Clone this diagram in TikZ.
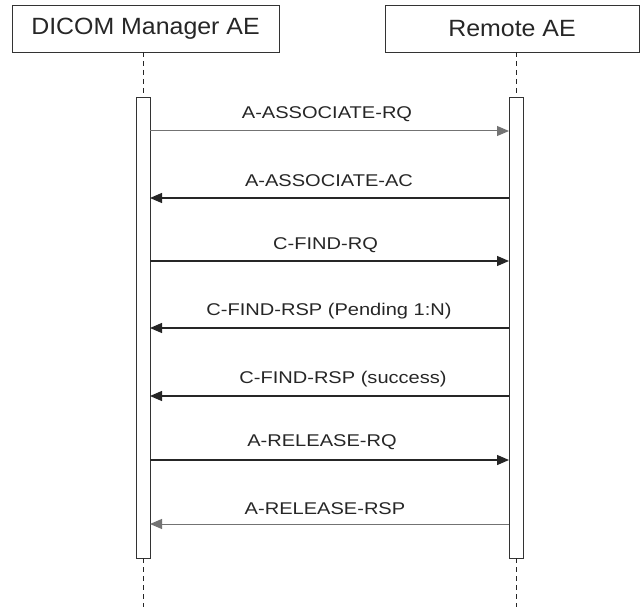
\documentclass[tikz,border=0pt]{standalone}
\usepackage{fontspec}
\setmainfont{Liberation Sans}
\newfontfamily\actorfont[FakeStretch=1.06]{Liberation Sans}
\newfontfamily\msgfont[FakeStretch=1.18]{Liberation Sans}
\usetikzlibrary{arrows.meta}

\tikzset{
  actor/.style={draw=black!80, line width=0.9pt, inner sep=0pt, minimum height=47pt,
    font=\actorfont\fontsize{23.5}{27}\selectfont, text=black!85},
  bar/.style={draw=black!80, line width=0.9pt, fill=white, inner sep=0pt,
    minimum width=14pt, minimum height=461pt},
  life/.style={draw=black!85, line width=0.9pt, dash pattern=on 5pt off 4pt},
  msg/.style={-{Triangle[length=12pt,width=10pt]}, draw=black!85, line width=1.3pt},
  faint/.style={draw=black!55, line width=1pt},
  lbl/.style={font=\msgfont\fontsize{17}{21}\selectfont, text=black!85, inner sep=0pt}
}

\begin{document}
\begin{tikzpicture}[x=1pt, y=-1pt]
        \useasboundingbox (0,0) rectangle (640,607);

        % the two entities
        \node[actor, minimum width=267pt] (mgr) at (145.5,28.5) {DICOM Manager AE};
        \node[actor, minimum width=254pt] (remote) at (512,28.5) {Remote AE};

        \coordinate (mgrtop) at (143,52);    \coordinate (mgrend) at (143,607);
        \coordinate (remtop) at (516,52);    \coordinate (remend) at (516,607);

        \node[bar] (mgrbar) at (143,327.5) {};
        \node[bar] (rembar) at (516,327.5) {};

        \draw[life] (mgrtop) -- (mgrbar.north);
        \draw[life] (mgrbar.south) -- (mgrend);
        \draw[life] (remtop) -- (rembar.north);
        \draw[life] (rembar.south) -- (remend);

        % messages
        \coordinate (m1) at (150,131);  \coordinate (r1) at (509,131);
        \coordinate (m2) at (150,198);  \coordinate (r2) at (509,198);
        \coordinate (m3) at (150,261);  \coordinate (r3) at (509,261);
        \coordinate (m4) at (150,328);  \coordinate (r4) at (509,328);
        \coordinate (m5) at (150,396);  \coordinate (r5) at (509,396);
        \coordinate (m6) at (150,460);  \coordinate (r6) at (509,460);
        \coordinate (m7) at (150,524);  \coordinate (r7) at (509,524);

        \draw[msg, faint] (m1) -- (r1);
        \node[lbl] (t1) at (327,114) {A-ASSOCIATE-RQ};
        \draw[msg] (r2) -- (m2);
        \node[lbl] (t2) at (329,181) {A-ASSOCIATE-AC};
        \draw[msg] (m3) -- (r3);
        \node[lbl] (t3) at (325.5,245.5) {C-FIND-RQ};
        \draw[msg] (r4) -- (m4);
        \node[lbl] (t4) at (329,311.5) {C-FIND-RSP (Pending 1:N)};
        \draw[msg] (r5) -- (m5);
        \node[lbl] (t5) at (343,379.5) {C-FIND-RSP (success)};
        \draw[msg] (m6) -- (r6);
        \node[lbl] (t6) at (322,442.5) {A-RELEASE-RQ};
        \draw[msg, faint] (r7) -- (m7);
        \node[lbl] (t7) at (325,508.5) {A-RELEASE-RSP};

    \end{tikzpicture}
\end{document}
